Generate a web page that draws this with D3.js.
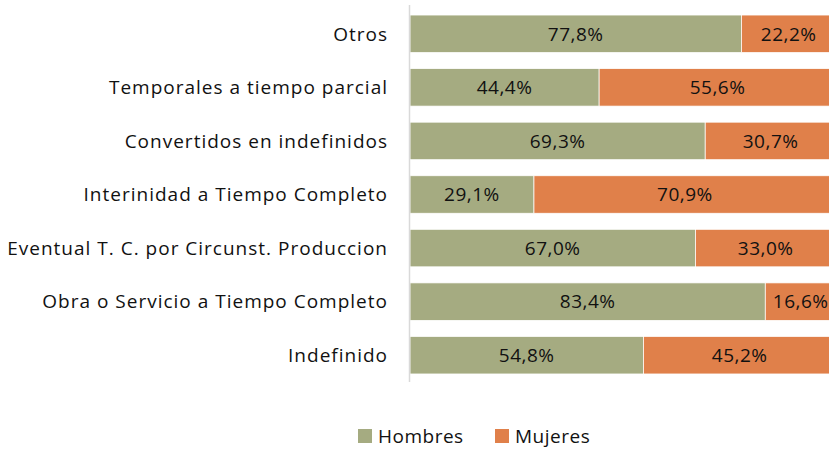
<!DOCTYPE html>
<html>
<head>
<meta charset="utf-8">
<script src="https://cdn.jsdelivr.net/npm/d3@7"></script>
<style>
  body { margin: 0; background: #fff; }
  svg { display: block; font-family: 'Open Sans', Lato, sans-serif; letter-spacing: 0.5px; }
  .cat-label { letter-spacing: 1px; }
</style>
</head>
<body>
<div id="wrapper"></div>
<script>
// 1. Data
const categories = [
  'Otros',
  'Temporales a tiempo parcial',
  'Convertidos en indefinidos',
  'Interinidad a Tiempo Completo',
  'Eventual T. C. por Circunst. Produccion',
  'Obra o Servicio a Tiempo Completo',
  'Indefinido',
];
const hombres = [77.8, 44.4, 69.3, 29.1, 67.0, 83.4, 54.8];
const mujeres = [22.2, 55.6, 30.7, 70.9, 33.0, 16.6, 45.2];
const seriesNames = ['Hombres', 'Mujeres'];
const seriesColors = ['#a5ab81', '#e0804a'];

// 2. Dimensions
const dimensions = {
  width: 829,
  height: 449,
  margin: { top: 7, right: -7, bottom: 67, left: 410 },
};
dimensions.boundedWidth =
  dimensions.width - dimensions.margin.left - dimensions.margin.right;
dimensions.boundedHeight =
  dimensions.height - dimensions.margin.top - dimensions.margin.bottom;

// 3. Canvas
const wrapper = d3
  .select('#wrapper')
  .append('svg')
  .attr('width', dimensions.width)
  .attr('height', dimensions.height);

const bounds = wrapper
  .append('g')
  .attr('transform', `translate(${dimensions.margin.left},${dimensions.margin.top})`);

// 4. Scales
const xScale = d3.scaleLinear().domain([0, 100]).range([0, dimensions.boundedWidth]);
const yScale = d3
  .scaleBand()
  .domain(categories)
  .range([0, dimensions.boundedHeight])
  .paddingInner(0.3)
  .paddingOuter(0.15);

const rows = categories.map((c, i) => ({ cat: c, Hombres: hombres[i], Mujeres: mujeres[i] }));
const stacked = d3.stack().keys(seriesNames)(rows);
const fmt = (v) => d3.format('.1f')(v).replace('.', ',') + '%';

// 5. Draw data
const layers = bounds
  .selectAll('.layer')
  .data(stacked)
  .join('g')
  .attr('class', 'layer')
  .attr('fill', (d, i) => seriesColors[i]);

layers
  .selectAll('rect')
  .data((d) => d)
  .join('rect')
  .attr('x', (d) => xScale(d[0]))
  .attr('y', (d) => yScale(d.data.cat))
  .attr('width', (d) => xScale(d[1]) - xScale(d[0]))
  .attr('height', yScale.bandwidth())
  .attr('stroke', '#fff')
  .attr('stroke-width', 0.75);

layers
  .selectAll('text')
  .data((d) => d.map((v) => ({ v, key: d.key })))
  .join('text')
  .attr('x', (d) => (xScale(d.v[0]) + xScale(d.v[1])) / 2)
  .attr('y', (d) => yScale(d.v.data.cat) + yScale.bandwidth() / 2)
  .attr('dy', '0.36em')
  .attr('text-anchor', 'middle')
  .attr('fill', '#111')
  .attr('font-size', 19)
  .text((d) => fmt(d.v.data[d.key]));

// 6. Peripherals
bounds
  .append('line')
  .attr('x1', -0.5)
  .attr('x2', -0.5)
  .attr('y1', -2)
  .attr('y2', dimensions.boundedHeight)
  .attr('stroke', '#d9d9d9')
  .attr('stroke-width', 1.5);

bounds
  .selectAll('.cat-label')
  .data(categories)
  .join('text')
  .attr('class', 'cat-label')
  .attr('x', -22)
  .attr('y', (d) => yScale(d) + yScale.bandwidth() / 2)
  .attr('dy', '0.36em')
  .attr('text-anchor', 'end')
  .attr('fill', '#111')
  .attr('font-size', 19)
  .text((d) => d);

// legend
const legend = wrapper.append('g').attr('transform', 'translate(358,436)');
const legendX = [0, 137];
const items = legend
  .selectAll('g')
  .data(seriesNames)
  .join('g')
  .attr('transform', (d, i) => `translate(${legendX[i]},0)`);
items
  .append('rect')
  .attr('x', 0)
  .attr('y', -7)
  .attr('width', 14)
  .attr('height', 14)
  .attr('fill', (d, i) => seriesColors[i]);
items
  .append('text')
  .attr('x', 20)
  .attr('dy', '0.36em')
  .attr('font-size', 19)
  .attr('fill', '#111')
  .text((d) => d);
</script>
</body>
</html>
